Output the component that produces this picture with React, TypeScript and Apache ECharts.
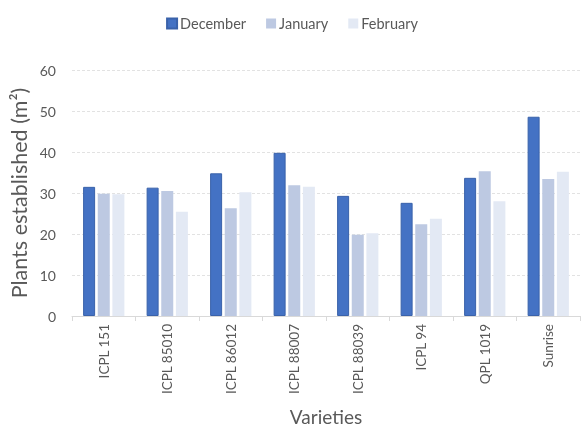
import React, { useEffect, useRef } from "react";
import * as echarts from "echarts";

const categories = [
  "ICPL 151",
  "ICPL 85010",
  "ICPL 86012",
  "ICPL 88007",
  "ICPL 88039",
  "ICPL 94",
  "QPL 1019",
  "Sunrise",
];
const december = [31.5, 31.3, 34.8, 39.8, 29.3, 27.6, 33.7, 48.6];
const january = [29.8, 30.5, 26.3, 31.9, 19.8, 22.4, 35.3, 33.4];
const february = [29.7, 25.4, 30.2, 31.5, 20.2, 23.7, 28.0, 35.2];
const yTicks = { min: 0, max: 60, interval: 10 };

const FONT = "Lato, 'Open Sans', sans-serif";
const TEXT = "#595959";

export default function App() {
  const ref = useRef<HTMLDivElement>(null);

  useEffect(() => {
    if (!ref.current) return;
    const chart = echarts.init(ref.current, undefined, { renderer: "svg" });
    const barBase = { type: "bar" as const, barWidth: 12, barGap: "22%" };
    chart.setOption({
      animation: false,
      textStyle: { fontFamily: FONT, color: TEXT },
      legend: {
        top: 11,
        left: "center",
        itemWidth: 10,
        itemHeight: 10,
        itemGap: 20,
        icon: "rect",
        textStyle: { fontFamily: FONT, fontSize: 14.5, color: TEXT, padding: [0, 0, 0, -2] },
        data: ["December", "January", "February"],
      },
      grid: {
        left: 72,
        right: 4,
        top: 70,
        bottom: 112,
        containLabel: false,
        outerBoundsMode: "none",
      },
      xAxis: {
        type: "category",
        data: categories,
        name: "Varieties",
        nameLocation: "middle",
        nameGap: 91,
        nameMoveOverlap: false,
        nameTextStyle: { fontFamily: FONT, fontSize: 19, color: TEXT },
        axisLine: { lineStyle: { color: "#D9D9D9", width: 1 } },
        axisTick: { show: true, length: 5, lineStyle: { color: "#D9D9D9" } },
        axisLabel: {
          rotate: 90,
          fontSize: 13.5,
          color: TEXT,
          fontFamily: FONT,
          margin: 8,
          interval: 0,
          hideOverlap: false,
        },
      },
      yAxis: {
        type: "value",
        min: yTicks.min,
        max: yTicks.max,
        interval: yTicks.interval,
        name: "Plants established (m²)",
        nameLocation: "middle",
        nameGap: 42,
        nameMoveOverlap: false,
        nameTextStyle: { fontFamily: FONT, fontSize: 21.5, color: TEXT },
        axisLine: { show: false },
        axisTick: { show: false },
        axisLabel: { fontSize: 14, color: TEXT, fontFamily: FONT, margin: 16 },
        splitLine: { lineStyle: { color: "#E2E2E2", type: [3, 2], width: 1 } },
      },
      series: [
        {
          ...barBase,
          name: "December",
          data: december,
          itemStyle: { color: "#4472C4", borderColor: "#3A62AA", borderWidth: 1 },
        },
        {
          ...barBase,
          name: "January",
          data: january,
          itemStyle: { color: "#BDC9E2" },
        },
        {
          ...barBase,
          name: "February",
          data: february,
          itemStyle: { color: "#E3E9F4" },
        },
      ],
    });
    return () => chart.dispose();
  }, []);

  return (
    <div style={{ position: "fixed", left: 0, top: 0, width: 584, height: 428 }}>
      <div ref={ref} style={{ width: 584, height: 428 }} />
    </div>
  );
}
